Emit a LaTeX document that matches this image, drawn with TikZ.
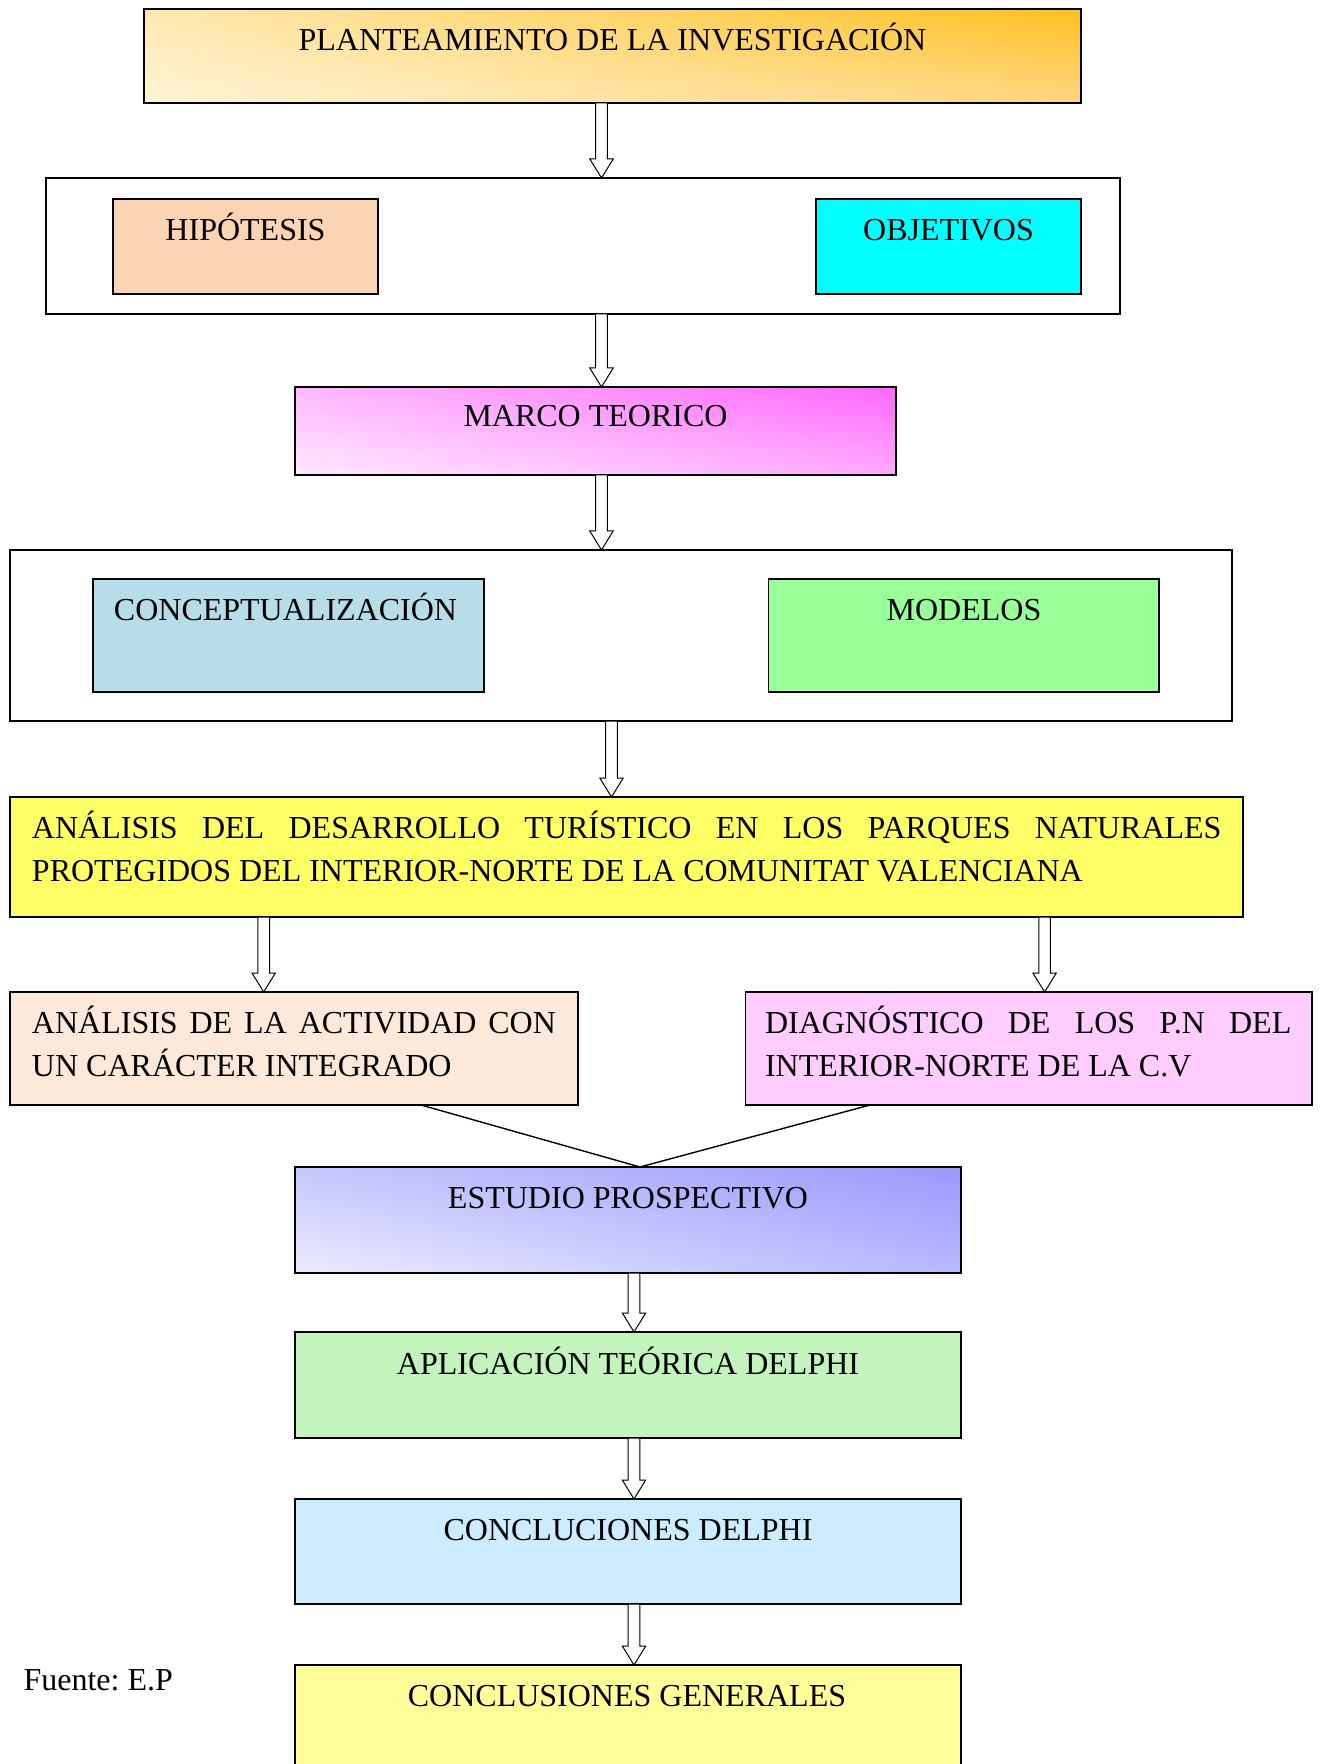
\documentclass[tikz,border=0pt]{standalone}
\usepackage{fontspec}
\setmainfont{Liberation Serif}
\frenchspacing
\usetikzlibrary{fit,calc,shadings}
\definecolor{topUR}{HTML}{FFC020}
\definecolor{topLR}{HTML}{FFD680}
\definecolor{topUL}{HTML}{FFE8B0}
\definecolor{topLL}{HTML}{FFF4D6}
\definecolor{marUR}{HTML}{FF66FF}
\definecolor{marLR}{HTML}{FFAAFF}
\definecolor{marUL}{HTML}{FFB8FF}
\definecolor{marLL}{HTML}{FFE8FF}
\definecolor{estUR}{HTML}{9999FF}
\definecolor{estLR}{HTML}{B8B8FF}
\definecolor{estUL}{HTML}{C6C6FF}
\definecolor{estLL}{HTML}{EBEBFF}
\definecolor{hipc}{HTML}{FBD4B4}
\definecolor{objc}{HTML}{00FFFF}
\definecolor{conc}{HTML}{B6DDE8}
\definecolor{modc}{HTML}{99FF99}
\definecolor{analc}{HTML}{FFFF66}
\definecolor{actc}{HTML}{FDE9D9}
\definecolor{diagc}{HTML}{FFCCFF}
\definecolor{aplc}{HTML}{C4F4BD}
\definecolor{cdc}{HTML}{CCECFF}
\definecolor{cgc}{HTML}{FFFF99}
\begin{document}
\begin{tikzpicture}[x=0.5pt,y=-0.5pt,
  box/.style={draw=black, line width=0.8pt, inner sep=0pt, outer sep=0pt},
  txt/.style={inner sep=0pt, outer sep=0pt, font=\fontsize{16pt}{21.5pt}\selectfont},
  blockarrow/.style={draw=black, fill=white, line width=0.5pt,
    to path={let \p1=(\tikztostart), \p2=(\tikztotarget) in
      (\x1-2.9pt,\y1) -- (\x1-2.9pt,\y2+9.5pt) -- (\x1-5.85pt,\y2+9.5pt) -- (\x1,\y2)
      -- (\x1+5.85pt,\y2+9.5pt) -- (\x1+2.9pt,\y2+9.5pt) -- (\x1+2.9pt,\y1) -- cycle}},
  link/.style={draw=black, line width=0.7pt}]
\clip (0,0) rectangle (1321,1764);
\fill[white] (0,0) rectangle (1321,1764);

% boxes
\node[box, upper right=topUR, lower right=topLR, upper left=topUL, lower left=topLL, fit={(144,9)(1081,103)}] (top) {};
\node[box, fill=white, fit={(46,178)(1120,314)}] (c1) {};
\node[box, fill=hipc, fit={(113,199)(378,294)}] (hip) {};
\node[box, fill=objc, fit={(816,199)(1081,294)}] (obj) {};
\node[box, upper right=marUR, lower right=marLR, upper left=marUL, lower left=marLL, fit={(295,387)(896,475)}] (marco) {};
\node[box, fill=white, fit={(10,550)(1232,721)}] (c2) {};
\node[box, fill=conc, fit={(93,579)(484,692)}] (concept) {};
\node[box, fill=modc, fit={(768.5,579)(1159,692)}] (modelos) {};
\node[box, fill=analc, fit={(10,797)(1243,917)}] (anal) {};
\node[box, fill=actc, fit={(10,992)(578,1105)}] (act) {};
\node[box, fill=diagc, fit={(745.5,992)(1312,1105)}] (diag) {};
\node[box, upper right=estUR, lower right=estLR, upper left=estUL, lower left=estLL, fit={(295,1167)(961,1273)}] (est) {};
\node[box, fill=aplc, fit={(295,1332)(961,1438)}] (apl) {};
\node[box, fill=cdc, fit={(295,1499)(961,1604)}] (cd) {};
\node[box, fill=cgc, fit={(295,1665)(961,1800)}] (cg) {};

% texts
\node[txt, anchor=base] (ttop) at (612.5,51) {PLANTEAMIENTO DE LA INVESTIGACIÓN};
\node[txt, anchor=base] (thip) at (245.5,240.5) {HIPÓTESIS};
\node[txt, anchor=base] (tobj) at (948.5,240.5) {OBJETIVOS};
\node[txt, anchor=base] (tmarco) at (595.5,427) {MARCO TEORICO};
\node[txt, anchor=base] (tconcept) at (285.5,620.5) {CONCEPTUALIZACIÓN};
\node[txt, anchor=base] (tmod) at (964,620.5) {MODELOS};
\node[txt, anchor=base west] (tanal) at (32,838) {\parbox[t]{594.8pt}{\tolerance=10000\hyphenpenalty=10000 ANÁLISIS DEL DESARROLLO TURÍSTICO EN LOS PARQUES NATURALES\linebreak PROTEGIDOS DEL INTERIOR-NORTE DE LA COMUNITAT VALENCIANA}};
\node[txt, anchor=base west] (tact) at (32,1033.5) {\parbox[t]{262pt}{\tolerance=10000\hyphenpenalty=10000 ANÁLISIS DE LA ACTIVIDAD CON\linebreak UN CARÁCTER INTEGRADO}};
\node[txt, anchor=base west] (tdiag) at (765,1033.5) {\parbox[t]{263.2pt}{\tolerance=10000\hyphenpenalty=10000 DIAGNÓSTICO DE LOS P.N DEL\linebreak INTERIOR-NORTE DE LA C.V}};
\node[txt, anchor=base] (test) at (628,1208.5) {ESTUDIO PROSPECTIVO};
\node[txt, anchor=base] (tapl) at (628,1374) {APLICACIÓN TEÓRICA DELPHI};
\node[txt, anchor=base] (tcd) at (628,1540.5) {CONCLUCIONES DELPHI};
\node[txt, anchor=base] (tcg) at (627,1706.5) {CONCLUSIONES GENERALES};
\node[txt, anchor=base west] (fuente) at (23.6,1690.5) {Fuente: E.P};

% connector x positions
\coordinate (ax1) at (601.5,0);
\coordinate (ax4) at (611.5,0);
\coordinate (axL) at (263.7,0);
\coordinate (axR) at (1044.6,0);
\coordinate (axB) at (634,0);
\coordinate (jl) at (421,0);
\coordinate (jr) at (870,0);
\coordinate (jm) at (640,0);

% arrows
\draw[blockarrow] (top.south -| ax1) to (c1.north -| ax1);
\draw[blockarrow] (c1.south -| ax1) to (marco.north -| ax1);
\draw[blockarrow] (marco.south -| ax1) to (c2.north -| ax1);
\draw[blockarrow] (c2.south -| ax4) to (anal.north -| ax4);
\draw[blockarrow] (anal.south -| axL) to (act.north -| axL);
\draw[blockarrow] (anal.south -| axR) to (diag.north -| axR);
\draw[blockarrow] (est.south -| axB) to (apl.north -| axB);
\draw[blockarrow] (apl.south -| axB) to (cd.north -| axB);
\draw[blockarrow] (cd.south -| axB) to (cg.north -| axB);

% joining lines
\draw[link] (act.south -| jl) -- (est.north -| jm) -- (diag.south -| jr);
\end{tikzpicture}
\end{document}
